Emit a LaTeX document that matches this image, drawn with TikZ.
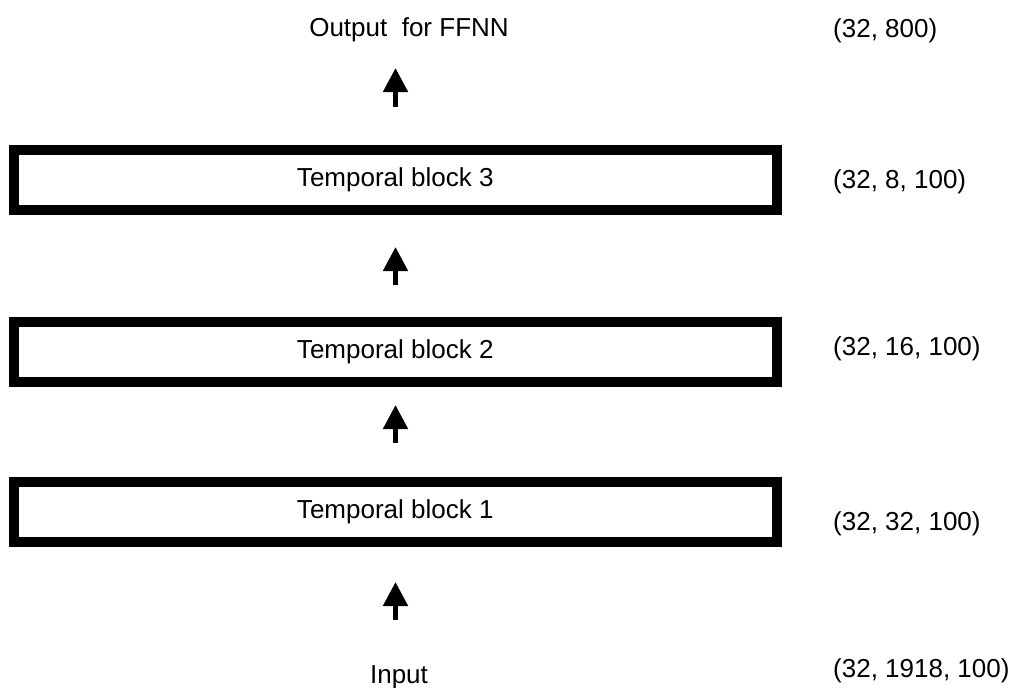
\documentclass[tikz,border=0pt]{standalone}
\usepackage{fontspec}
\setmainfont{Liberation Sans}
\usetikzlibrary{arrows.meta}
\begin{document}
\begin{tikzpicture}[x=1pt,y=-1pt,
  every node/.style={font=\fontsize{26}{30}\selectfont},
  blockbox/.style={draw=black,line width=10pt,minimum width=763.5pt,minimum height=60pt,inner sep=0pt},
  shapelabel/.style={anchor=base west,inner sep=0pt},
  uparrow/.style={line width=5pt,line cap=butt,-{Triangle[length=24pt,width=24pt]}}
]
\useasboundingbox (0,0) rectangle (1012,688);
% blocks
\node[blockbox] (b3) at (395.25,180) {Temporal block 3};
\node[blockbox] (b2) at (395.25,351.5) {Temporal block 2};
\node[blockbox] (b1) at (395.25,512) {Temporal block 1};
% texts
\node[anchor=base,inner sep=0pt] (out) at (409,36) {Output\ \ for FFNN};
\node[anchor=base,inner sep=0pt] (in) at (399,683) {Input};
% shape labels
\node[shapelabel] (s0) at (833,37) {(32, 800)};
\node[shapelabel] (s3) at (833,188) {(32, 8, 100)};
\node[shapelabel] (s2) at (833,355) {(32, 16, 100)};
\node[shapelabel] (s1) at (833,530) {(32, 32, 100)};
\node[shapelabel] (si) at (833,677) {(32, 1918, 100)};
% arrows
\coordinate (a0s) at (395.5,107); \coordinate (a0e) at (395.5,68);
\coordinate (a1s) at (395.5,285); \coordinate (a1e) at (395.5,247);
\coordinate (a2s) at (395.5,443); \coordinate (a2e) at (395.5,405);
\coordinate (a3s) at (395.5,620); \coordinate (a3e) at (395.5,582);
\draw[uparrow] (a0s) -- (a0e);
\draw[uparrow] (a1s) -- (a1e);
\draw[uparrow] (a2s) -- (a2e);
\draw[uparrow] (a3s) -- (a3e);
\end{tikzpicture}
\end{document}
